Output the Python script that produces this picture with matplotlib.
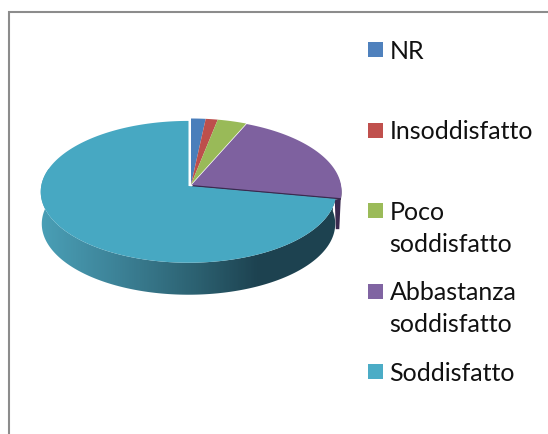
import numpy as np
import matplotlib
matplotlib.use("Agg")
import matplotlib.pyplot as plt
from matplotlib.colors import LinearSegmentedColormap
from matplotlib.patches import Polygon, Rectangle

categories = ["NR", "Insoddisfatto", "Poco\nsoddisfatto", "Abbastanza\nsoddisfatto", "Soddisfatto"]
values = [1.7, 1.4, 3.4, 21.4, 72.1]
colors = ["#4f81bd", "#c0504d", "#9bbb59", "#8064a2", "#4bacc6"]
top_colors = ["#4a7ebb", "#bd4f4c", "#99ba58", "#7e619f", "#47a8c2"]
side_colors = ["#2c4d75", "#772c2a", "#5f7530", "#3a2a4f", "#1d4250"]

W, H = 548, 435
fig = plt.figure(figsize=(W / 100, H / 100), dpi=100, facecolor="white")
ax = fig.add_axes([0, 0, 1, 1])

# chart frame: the right side is cut off in the reference
ax.plot([8.5, 8.5, 549], [436, 13, 13], color="#8c8c8c", lw=1.5, solid_joinstyle="miter")

CX, CY, DEPTH = 190.5, 186.0, 32
K, A, B = 0.0833, 71.5, 149.5

def proj(theta, r=1.0):
    """Perspective map of a disc point; theta is clockwise from 12 o'clock."""
    s = r * np.cos(theta)
    c = r * np.sin(theta)
    d = 1 + K * s
    return B * c / d, -A * s / d

def wedge(t0, t1, dx=0.0, dy=0.0, r=1.0):
    t = np.linspace(t0, t1, max(int((t1 - t0) * 60), 2))
    x, y = proj(t, r)
    return np.c_[np.r_[CX + dx, CX + dx + x], np.r_[CY + dy, CY + dy + y]]

fr = np.array(values) / sum(values)
edges = np.r_[0, np.cumsum(fr)] * 2 * np.pi

# Offsets and radii of the slices
off = [(0.5, -0.5), (0.5, -0.5), (0.5, -0.5), (1.0, 0.0), (-2.0, 1.0)]
rad = [1.0, 1.0, 1.0, 1.0, 0.985]

# Abbastanza side wall, seen at the right of the pie and under its cut edge
px, py = proj(edges[4])
ex, ey = CX + off[3][0] + px, CY + off[3][1] + py
ax.add_patch(Polygon([(ex - 6, ey + 2), (ex, ey), (ex - 1.5, ey + DEPTH - 1), (ex - 5, ey + DEPTH - 1)],
                     closed=True, fc=side_colors[3], ec="none", zorder=2))
ax.add_patch(Polygon(wedge(edges[3], edges[4], off[3][0], off[3][1] + 1.8), closed=True,
                     fc=side_colors[3], ec="none", zorder=3.5))

# Soddisfatto side wall with its horizontal shading
t = np.linspace(np.pi / 2 - 0.1, 3 * np.pi / 2 + 0.3, 300)
x, y = proj(t, rad[4])
X = CX + off[4][0] + x
Y = CY + off[4][1] + y
Xb = CX + off[4][0] + 0.993 * x
outline = np.r_[np.c_[X, Y], np.c_[Xb[::-1], Y[::-1] + DEPTH]]
shade = LinearSegmentedColormap.from_list(
    "wall", [(0, "#4a9fb6"), (0.25, "#3d8398"), (0.52, "#2c6171"), (0.73, "#1d4250"), (1, "#1d4250")])
clip = Polygon(outline, closed=True, fc="none", ec="none", transform=ax.transData)
ax.add_patch(clip)
im = ax.imshow(np.linspace(0, 1, 300)[None, :], cmap=shade, aspect="auto",
               extent=(40, 340, 300, 170), zorder=3)
im.set_clip_path(clip)

# Top faces
for i in range(5):
    ax.add_patch(Polygon(wedge(edges[i], edges[i + 1], off[i][0], off[i][1], rad[i]), closed=True,
                         fc=top_colors[i], ec="none", zorder=5 if i == 4 else 4))

# Legend
key_y = [43, 124, 204, 285, 365]
baselines = [59, 139.5, 220, 300.5, 381]
line_px = 32
for y0, base, name, col in zip(key_y, baselines, categories, colors):
    ax.add_patch(Rectangle((368, y0), 15, 15, fc=col, ec="none"))
    for n, part in enumerate(name.split("\n")):
        ax.text(389.5, base + n * line_px, part, fontsize=18, family="Lato", color="#111111",
                va="baseline", ha="left")

ax.set_xlim(0, W)
ax.set_ylim(H, 0)
ax.axis("off")

fig.savefig("out.png", dpi=100)
